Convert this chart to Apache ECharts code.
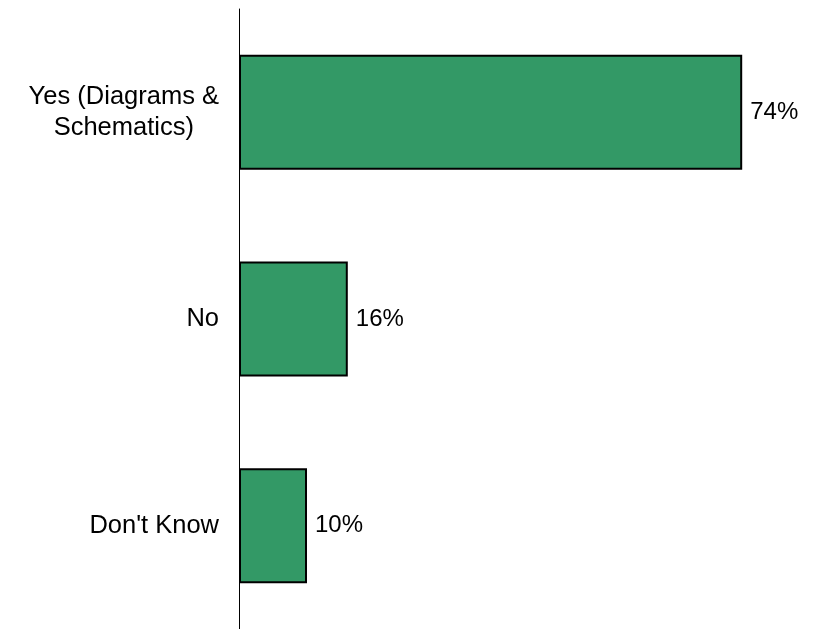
<!DOCTYPE html>
<html>
<head>
<meta charset="utf-8">
<script src="https://cdn.jsdelivr.net/npm/echarts@6/dist/echarts.min.js"></script>
<style>
html,body{margin:0;padding:0;background:#fff;}
#chart{width:814px;height:629px;}
</style>
</head>
<body>
<div id="chart"></div>
<script>
const categories = ['Yes (Diagrams &\nSchematics)', 'No', "Don't Know"];
const values = [74, 16, 10];

const chart = echarts.init(document.getElementById('chart'));
chart.setOption({
  animation: false,
  backgroundColor: '#ffffff',
  grid: { left: 239, right: 31, top: 9, bottom: 0, containLabel: false },
  xAxis: {
    type: 'value', min: 0, max: 80, show: false
  },
  yAxis: {
    type: 'category',
    data: categories,
    inverse: true,
    axisLine: { show: true, lineStyle: { color: '#000', width: 1 } },
    axisTick: { show: false },
    axisLabel: {
      margin: 20,
      color: '#000',
      fontFamily: 'Liberation Sans, Arial, sans-serif',
      fontSize: 25.5,
      lineHeight: 31,
      formatter: function (v) {
        return v.split('\n').map(function (l) { return '{c|' + l + '}'; }).join('\n');
      },
      rich: {
        c: { align: 'center', fontSize: 25.5, lineHeight: 31, color: '#000', fontFamily: 'Liberation Sans, Arial, sans-serif' }
      }
    },
    splitLine: { show: false }
  },
  series: [{
    type: 'bar',
    data: values,
    barWidth: 115,
    itemStyle: { color: '#339966', borderColor: '#000', borderWidth: 2 },
    label: {
      show: true,
      position: 'right',
      distance: 8,
      formatter: '{c}%',
      color: '#000',
      fontFamily: 'Liberation Sans, Arial, sans-serif',
      fontSize: 24
    }
  }]
});
</script>
</body>
</html>
